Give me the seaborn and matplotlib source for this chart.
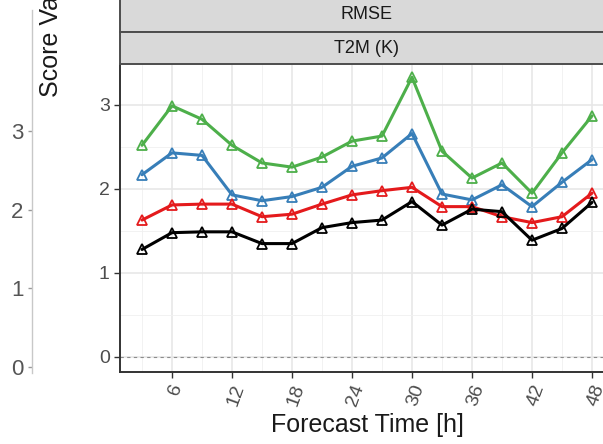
import numpy as np
import pandas as pd
import matplotlib
matplotlib.use("Agg")
import matplotlib.pyplot as plt
import matplotlib.transforms as mtransforms
import seaborn as sns
from matplotlib.ticker import MultipleLocator

sns.set_theme(style="white")
plt.rcParams['font.family'] = ['Liberation Sans', 'DejaVu Sans']

lead_time = [3, 6, 9, 12, 15, 18, 21, 24, 27, 30, 33, 36, 39, 42, 45, 48]
model_a = [2.52, 2.99, 2.83, 2.52, 2.31, 2.26, 2.38, 2.57, 2.63, 3.33, 2.45, 2.13, 2.31, 1.95, 2.43, 2.87]
model_b = [2.17, 2.43, 2.40, 1.93, 1.86, 1.91, 2.02, 2.27, 2.37, 2.66, 1.94, 1.87, 2.05, 1.79, 2.08, 2.35]
model_c = [1.63, 1.81, 1.82, 1.82, 1.67, 1.70, 1.82, 1.93, 1.98, 2.02, 1.79, 1.79, 1.67, 1.60, 1.67, 1.95]
model_d = [1.28, 1.48, 1.49, 1.49, 1.35, 1.35, 1.54, 1.60, 1.63, 1.85, 1.57, 1.76, 1.73, 1.39, 1.53, 1.84]
model_names = ["A", "B", "C", "D"]
colors = ["#4DAF4A", "#377EB8", "#E41A1C", "#000000"]
x_ticks = [6, 12, 18, 24, 30, 36, 42, 48]
y_ticks = [0, 1, 2, 3]
strip_top = "RMSE"
strip_bottom = "T2M (K)"

rows = []
for name, vals in zip(model_names, [model_a, model_b, model_c, model_d]):
    for t, v in zip(lead_time, vals):
        rows.append({"lead": t, "score": v, "model": name})
df = pd.DataFrame(rows)

W, H = 603, 444
fig = plt.figure(figsize=(W / 100, H / 100), dpi=100)

def px_axes(x0, y0, x1, y1):
    return fig.add_axes([x0 / W, 1 - y1 / H, (x1 - x0) / W, (y1 - y0) / H])

# Left (cut-off) axis
axl = px_axes(32, 10, 60, 373)
axl.set_facecolor("none")
for s in ["top", "right", "bottom"]:
    axl.spines[s].set_visible(False)
axl.spines["left"].set_color("#C8C8C8")
axl.spines["left"].set_linewidth(1.0)
axl.set_ylim((367 - 373) / 78.6, (367 - 10) / 78.6)
axl.set_yticks(y_ticks)
axl.set_yticklabels([str(v) for v in y_ticks])
axl.set_xticks([])
axl.tick_params(axis="y", left=True, length=3, width=1, color="#999999",
                labelsize=16, labelcolor="#555555", pad=3)
fig.text(51 / W, 1 - 97 / H, "Score Value", rotation=90, rotation_mode="anchor",
         ha="left", va="center", fontsize=18, color="#1A1A1A")

# Main panel
ax = px_axes(119.5, 65, 614.5, 372)
ax.set_facecolor("white")
sns.lineplot(data=df, x="lead", y="score", hue="model", palette=colors,
             marker="^", markersize=7, markerfacecolor="none", linewidth=2.2,
             ax=ax, legend=False)
for line, c in zip(ax.lines, colors):
    line.set_markeredgecolor(c)
    line.set_markeredgewidth(1.3)
ax.axhline(0, color="#8C8C8C", linestyle=(0, (3, 3)), linewidth=0.8, zorder=1)

ax.set_xlim(0.75, 50.25)
ax.set_ylim(-0.1786, 3.476)
ax.set_xticks(x_ticks)
ax.set_xticklabels([str(v) for v in x_ticks], rotation=70)
ax.set_yticks(y_ticks)
ax.xaxis.set_minor_locator(MultipleLocator(3))
ax.yaxis.set_minor_locator(MultipleLocator(0.5))
ax.grid(which="major", color="#E6E6E6", linewidth=1.1, zorder=0)
ax.grid(which="minor", color="#F0F0F0", linewidth=0.6, zorder=0)
ax.set_axisbelow(True)
for s in ["top", "right"]:
    ax.spines[s].set_visible(False)
for s in ["left", "bottom"]:
    ax.spines[s].set_color("#333333")
    ax.spines[s].set_linewidth(1.4)
ax.tick_params(axis="both", which="major", length=4, width=1, color="#333333",
               labelsize=14, labelcolor="#4D4D4D", bottom=True, left=True)
ax.tick_params(axis="x", pad=3)
ax.tick_params(axis="y", pad=3)
ax.tick_params(which="minor", length=0)
shift = mtransforms.ScaledTranslation(4 / 100, 0, fig.dpi_scale_trans)
for lab in ax.get_xticklabels():
    lab.set_transform(lab.get_transform() + shift)
ax.set_xlabel("Forecast Time [h]", fontsize=18, color="#1A1A1A")
ax.xaxis.set_label_coords(0.5, (372 - 413) / 307)
ax.set_ylabel("")

# Strips
for (y0, y1, label) in [(-1, 32, strip_top), (32.5, 64.5, strip_bottom)]:
    sa = px_axes(119.5, y0, 614.5, y1)
    sa.set_facecolor("#D9D9D9")
    sa.set_xticks([])
    sa.set_yticks([])
    for s in sa.spines.values():
        s.set_color("#4D4D4D")
        s.set_linewidth(1.4)
    sa.text(0.5, 0.5 if y0 >= 0 else 0.53, label, transform=sa.transAxes,
            ha="center", va="center", fontsize=13, color="#1A1A1A")

fig.savefig("out.png", dpi=100)
